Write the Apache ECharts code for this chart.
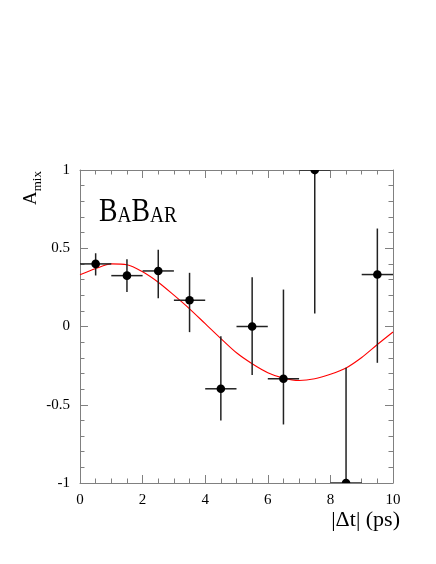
<!DOCTYPE html>
<html>
<head>
<meta charset="utf-8">
<script src="https://cdn.jsdelivr.net/npm/echarts@6/dist/echarts.min.js"></script>
<style>
  html, body { margin: 0; padding: 0; background: #fff; }
  #chartmain { width: 436px; height: 564px; }
</style>
</head>
<body>
<div id="chartmain"></div>
<script>
// measured points : bin centre, asymmetry, error bar ends
var binCenters = [0.5, 1.5, 2.5, 3.5, 4.5, 5.5, 6.5, 7.5, 8.5, 9.5];
var asymValues = [0.40, 0.325, 0.355, 0.168, -0.398, 0.0, -0.334, 1.0, -1.0, 0.332];
var errHigh = [0.468, 0.43, 0.49, 0.343, -0.062, 0.315, 0.236, 1.4, -0.264, 0.626];
var errLow = [0.326, 0.22, 0.18, -0.036, -0.60, -0.31, -0.626, 0.083, -1.4, -0.232];
var binHalfWidth = 0.5;

// fitted curve
var fitT = [0, 0.5, 1, 1.5, 2, 2.5, 3, 3.5, 4, 4.5, 5, 5.5, 6, 6.5, 7, 7.5, 8, 8.5, 9, 9.5, 10];
var fitA = [0.33, 0.37, 0.40, 0.395, 0.35, 0.283, 0.20, 0.113, 0.018, -0.077, -0.168, -0.238, -0.295, -0.33, -0.345, -0.334, -0.305, -0.265, -0.198, -0.115, -0.035];

var xTicks = { min: 0, max: 10, interval: 2 };
var yTicks = { min: -1, max: 1, interval: 0.5 };

var axisGrey = '#808080';
var serif = 'Liberation Serif';

var points = [];
for (var i = 0; i < binCenters.length; i++) {
	points.push([binCenters[i], asymValues[i], errLow[i], errHigh[i]]);
}
var curve = [];
for (var j = 0; j < fitT.length; j++) {
	curve.push([fitT[j], fitA[j]]);
}

function renderPoint(params, api) {
	var x = api.value(0), y = api.value(1);
	var c = api.coord([x, y]);
	var lo = api.coord([x, api.value(2)]);
	var hi = api.coord([x, api.value(3)]);
	var l = api.coord([x - binHalfWidth, y]);
	var r = api.coord([x + binHalfWidth, y]);
	var st = { stroke: '#222', lineWidth: 1.5 };
	return {
		type: 'group',
		children: [
			{ type: 'line', shape: { x1: lo[0], y1: lo[1], x2: hi[0], y2: hi[1] }, style: st },
			{ type: 'line', shape: { x1: l[0], y1: l[1], x2: r[0], y2: r[1] }, style: st },
			{ type: 'circle', shape: { cx: c[0], cy: c[1], r: 4.3 }, style: { fill: '#000' } }
		]
	};
}

function axisBase(pos, ticks, minorSplit, showLabel) {
	return {
		type: 'value',
		position: pos,
		min: ticks.min,
		max: ticks.max,
		interval: ticks.interval,
		axisLine: { show: true, onZero: false, lineStyle: { color: axisGrey, width: 1 } },
		axisTick: { show: true, inside: true, length: 8, lineStyle: { color: axisGrey, width: 1 } },
		minorTick: { show: true, splitNumber: minorSplit, length: 4.5, lineStyle: { color: axisGrey, width: 1 } },
		splitLine: { show: false },
		axisLabel: { show: showLabel, color: '#000', fontFamily: serif, fontSize: 15, margin: 10 }
	};
}

var myChart = echarts.init(document.getElementById('chartmain'), null, { renderer: 'canvas' });
var option = {
	backgroundColor: '#fff',
	animation: false,
	grid: { left: 80, right: 43, top: 170, bottom: 81 },
	xAxis: [
		axisBase('bottom', xTicks, 4, true),
		axisBase('top', xTicks, 4, false)
	],
	yAxis: [
		axisBase('left', yTicks, 5, true),
		axisBase('right', yTicks, 5, false)
	],
	series: [
		{
			type: 'line',
			data: curve,
			smooth: 0.3,
			showSymbol: false,
			clip: true,
			lineStyle: { color: '#ff0000', width: 1.1 },
			z: 3
		},
		{
			type: 'custom',
			data: points,
			renderItem: renderPoint,
			clip: true,
			encode: { x: 0, y: 1 },
			z: 4
		}
	],
	graphic: [
		{
			type: 'text',
			x: 35,
			y: 188,
			rotation: Math.PI / 2,
			style: {
				text: '{a|A}{s|mix}',
				align: 'center',
				verticalAlign: 'middle',
				rich: {
					a: { fontFamily: serif, fontSize: 19, lineHeight: 19, verticalAlign: 'bottom', padding: [0, 0, 3.5, 0], fill: '#000' },
					s: { fontFamily: serif, fontSize: 13, lineHeight: 13, verticalAlign: 'bottom', fill: '#000' }
				}
			}
		},
		{
			type: 'text',
			x: 99,
			y: 229,
			scaleX: 0.84,
			style: {
				text: '{b|B}{s|A}{b|B}{s|AR}',
				align: 'left',
				verticalAlign: 'bottom',
				rich: {
					b: { fontFamily: serif, fontSize: 33, lineHeight: 33, verticalAlign: 'bottom', fill: '#000' },
					s: { fontFamily: serif, fontSize: 23, lineHeight: 23, verticalAlign: 'bottom', padding: [0, 0, 1.6, 0], fill: '#000' }
				}
			}
		},
		{
			type: 'text',
			x: 400,
			y: 531,
			style: {
				text: '|\u0394t| (ps)',
				align: 'right',
				verticalAlign: 'bottom',
				fontFamily: serif,
				fontSize: 22,
				fill: '#000'
			}
		}
	]
};
myChart.setOption(option);
</script>
</body>
</html>
